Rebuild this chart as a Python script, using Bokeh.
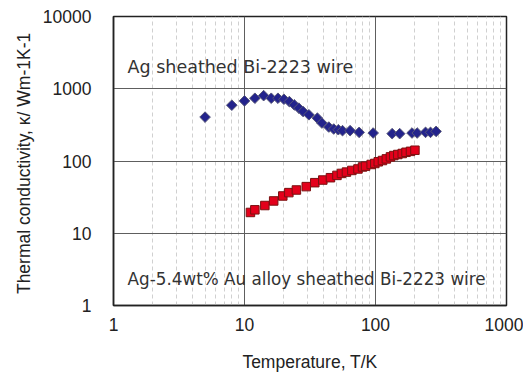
from bokeh.plotting import figure
from bokeh.models import FixedTicker, NumeralTickFormatter, Label
from bokeh.embed import file_html
from bokeh.resources import INLINE
import math

# Ag sheathed Bi-2223 wire (blue diamonds)
ag_T = [5, 8, 10, 12, 14, 16, 18, 20, 22, 24, 26, 28, 31, 36, 39, 44, 48, 52,
        56, 64, 75, 96, 134, 153, 190, 208, 241, 263, 290]
ag_k = [405, 592, 679, 739, 803, 739, 739, 716, 664, 598, 539, 484, 436, 392,
        335, 295, 277, 271, 263, 263, 249, 244, 239, 239, 244, 244, 249, 249, 257]

# Ag-5.4wt% Au alloy sheathed Bi-2223 wire (red squares)
au_T = [11.1, 12, 14.3, 16.7, 19.6, 21.8, 24.9, 29.6, 34.4, 39.6, 45.3, 50.8,
        55, 60, 66, 73.5, 79.6, 84, 92.7, 98.8, 105, 113, 121, 130, 138, 148,
        160, 171, 185, 200]
au_k = [19.4, 21.1, 24.2, 28, 32.8, 36.5, 39.7, 44.2, 50.1, 54.5, 58.7, 63.2,
        67.3, 70.2, 74, 77.6, 82.7, 84.9, 89.5, 92.4, 97.5, 101.6, 107, 114,
        119, 123, 127, 132, 136, 141]

x_major = [1, 10, 100, 1000]
y_major = [1, 10, 100, 1000, 10000]
x_minor = [m * d for d in (1, 10, 100) for m in range(2, 10)]

p = figure(width=523, height=374, x_axis_type="log", y_axis_type="log",
           x_range=(1, 1000), y_range=(1, 10000),
           output_backend="svg", toolbar_location=None,
           min_border_left=113, min_border_right=17,
           min_border_top=16, min_border_bottom=67)

p.background_fill_color = "white"
p.border_fill_color = "white"
p.outline_line_color = "#222222"
p.outline_line_width = 1.5

p.xaxis.ticker = FixedTicker(ticks=x_major, minor_ticks=x_minor)
p.yaxis.ticker = FixedTicker(ticks=y_major, minor_ticks=[])
p.xaxis.formatter = NumeralTickFormatter(format="0")
p.yaxis.formatter = NumeralTickFormatter(format="0")

for ax in (p.xaxis, p.yaxis):
    ax.axis_line_color = "#222222"
    ax.axis_line_width = 1.5
    ax.major_tick_line_color = None
    ax.minor_tick_line_color = None
    ax.major_tick_out = 0
    ax.major_tick_in = 0
    ax.minor_tick_out = 0
    ax.minor_tick_in = 0
    ax.major_label_text_font = "Liberation Sans"
    ax.major_label_text_font_size = "17.5px"
    ax.major_label_text_color = "#222222"
    ax.axis_label_text_font = "Liberation Sans"
    ax.axis_label_text_font_size = "17.5px"
    ax.axis_label_text_font_style = "normal"
    ax.axis_label_text_color = "#222222"

p.xaxis.major_label_standoff = 12
p.yaxis.major_label_standoff = 22
p.xaxis.axis_label = "Temperature, T/K"
p.yaxis.axis_label = "Thermal conductivity,  \u03ba/ Wm-1K-1"
p.xaxis.axis_label_standoff = 18
p.yaxis.axis_label_standoff = 6

p.xgrid.grid_line_color = "#5e5e5e"
p.xgrid.grid_line_width = 1
p.xgrid.minor_grid_line_color = "#d0d0d0"
p.xgrid.minor_grid_line_dash = "4 3"
p.xgrid.minor_grid_line_width = 1
p.ygrid.grid_line_color = "#5e5e5e"
p.ygrid.grid_line_width = 1

p.scatter(ag_T, ag_k, marker="square", size=7.5, angle=math.pi / 4,
          fill_color="#23238c", line_color="#555577", line_width=1)
p.scatter(au_T, au_k, marker="square", size=8.5,
          fill_color="#e3001b", line_color="#7a1010", line_width=1)

p.add_layout(Label(x=1.28, y=2010, text="Ag sheathed Bi-2223 wire",
                   text_font="DejaVu Sans", text_font_size="17.5px",
                   text_color="#333333", text_baseline="alphabetic"))
p.add_layout(Label(x=1.28, y=2.30, text="Ag-5.4wt% Au alloy sheathed  Bi-2223 wire",
                   text_font="DejaVu Sans", text_font_size="16.8px",
                   text_color="#333333", text_baseline="alphabetic"))

open("out.html", "w").write(file_html(p, INLINE))
